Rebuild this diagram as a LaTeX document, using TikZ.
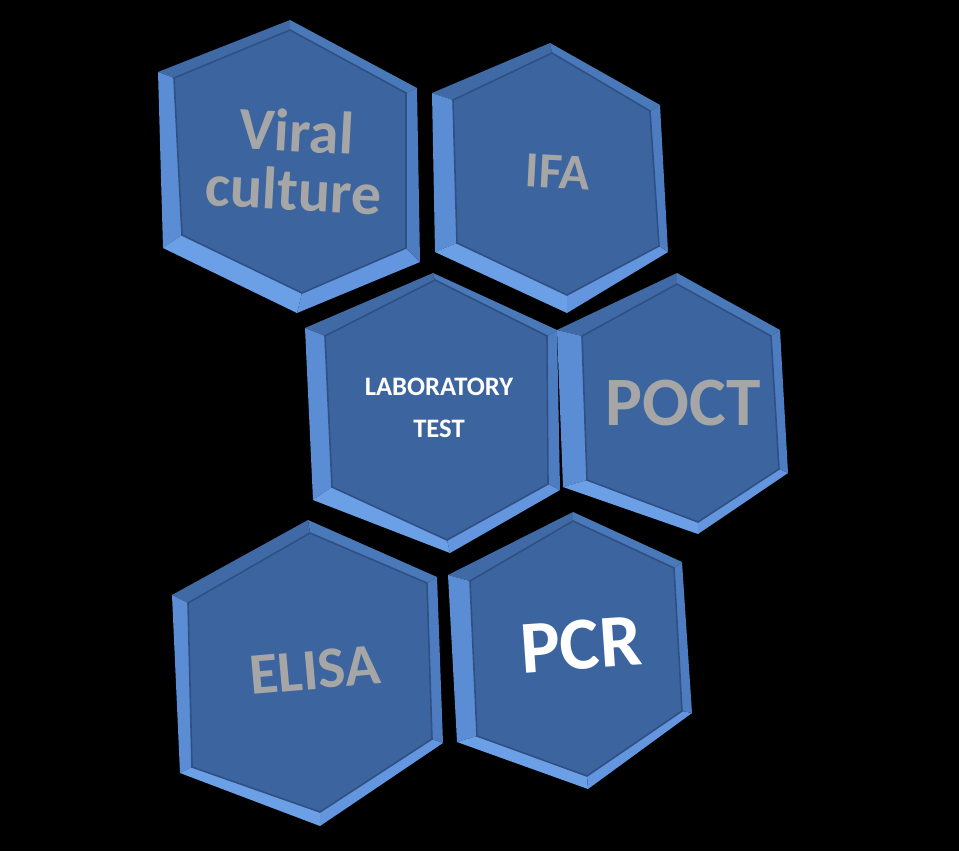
\documentclass[tikz,border=0pt]{standalone}
\usepackage{fontspec}
\setmainfont{Carlito}
\usepackage{xcolor}
\usepackage{tikz}
\usetikzlibrary{positioning}

\definecolor{hexface}{HTML}{3C649E}
\definecolor{bevTL}{HTML}{3F6AA6}
\definecolor{bevL}{HTML}{5A8DD4}
\definecolor{bevBL}{HTML}{6B9FE6}
\definecolor{bevBR}{HTML}{6396DE}
\definecolor{bevR}{HTML}{4D7DC0}
\definecolor{bevTR}{HTML}{4A79BA}
\definecolor{hexrim}{HTML}{2E5084}
\definecolor{labelgray}{HTML}{A6A6A6}

% faces of one bevelled hexagon, from the coordinates o1..o6 and i1..i6
\newcommand{\bevelhex}{%
  \fill[bevTL] (o1) -- (o2) -- (i2) -- (i1) -- cycle;
  \fill[bevL]  (o2) -- (o3) -- (i3) -- (i2) -- cycle;
  \fill[bevBL] (o3) -- (o4) -- (i4) -- (i3) -- cycle;
  \fill[bevBR] (o4) -- (o5) -- (i5) -- (i4) -- cycle;
  \fill[bevR]  (o5) -- (o6) -- (i6) -- (i5) -- cycle;
  \fill[bevTR] (o6) -- (o1) -- (i1) -- (i6) -- cycle;
  \filldraw[fill=hexface, draw=hexrim, line width=1.2pt]
    (i1) -- (i2) -- (i3) -- (i4) -- (i5) -- (i6) -- cycle;
}
\newcommand{\hexcorners}[6]{%
  \coordinate (o1) at #1; \coordinate (o2) at #2; \coordinate (o3) at #3;
  \coordinate (o4) at #4; \coordinate (o5) at #5; \coordinate (o6) at #6;
}
\newcommand{\hexinner}[6]{%
  \coordinate (i1) at #1; \coordinate (i2) at #2; \coordinate (i3) at #3;
  \coordinate (i4) at #4; \coordinate (i5) at #5; \coordinate (i6) at #6;
}

\begin{document}
\begin{tikzpicture}[x=0.75pt, y=-0.75pt,
    graylabel/.style={text=labelgray, font=\bfseries, align=center},
    whitelabel/.style={text=white, font=\bfseries, align=center}]
  \fill[black] (0,0) rectangle (959,851);
  \useasboundingbox (0,0) rectangle (959,851);

  % Viral culture
  \hexcorners{(290,20)}{(158,72)}{(163,248)}{(297,313)}{(420,262)}{(417,88)}
  \hexinner{(290,30)}{(174,78)}{(182,235)}{(302,293)}{(406,248)}{(406,93)}
  \bevelhex
  % IFA
  \hexcorners{(550,43)}{(432,93)}{(435,252)}{(567,313)}{(668,252)}{(660,105)}
  \hexinner{(552,53)}{(453,100)}{(457,243)}{(567,295)}{(659,246)}{(650,111)}
  \bevelhex
  % laboratory test
  \hexcorners{(433,273)}{(305,328)}{(313,500)}{(450,553)}{(560,490)}{(557,330)}
  \hexinner{(435,280)}{(325,336)}{(332,487)}{(447,540)}{(548,484)}{(547,336)}
  \bevelhex
  % POCT
  \hexcorners{(677,273)}{(557,330)}{(563,487)}{(698,534)}{(788,473)}{(780,330)}
  \hexinner{(677,284)}{(582,336)}{(587,480)}{(698,522)}{(779,469)}{(771,336)}
  \bevelhex
  % ELISA
  \hexcorners{(308,520)}{(172,595)}{(180,773)}{(320,826)}{(443,743)}{(437,577)}
  \hexinner{(310,533)}{(188,603)}{(192,767)}{(320,812)}{(432,739)}{(427,583)}
  \bevelhex
  % PCR
  \hexcorners{(573,512)}{(448,575)}{(457,742)}{(588,789)}{(692,713)}{(682,562)}
  \hexinner{(573,521)}{(470,581)}{(477,736)}{(587,776)}{(682,711)}{(674,568)}
  \bevelhex

  \node[graylabel, font=\fontsize{45}{44}\selectfont\bfseries, rotate=-3] (viral) at (295,160) {Viral\\culture};
  \node[graylabel, font=\fontsize{38}{40}\selectfont\bfseries, rotate=-3] (ifa) at (558,172) {IFA};
  \node[whitelabel, font=\fontsize{20}{32}\selectfont\bfseries] (lab) at (439,408) {LABORATORY\\TEST};
  \node[graylabel, font=\fontsize{52}{56}\selectfont\bfseries] (poct) at (683,403) {POCT};
  \node[graylabel, font=\fontsize{44}{48}\selectfont\bfseries, rotate=5] (elisa) at (315,670) {ELISA};
  \node[whitelabel, font=\fontsize{56}{60}\selectfont\bfseries, rotate=4] (pcr) at (581,645) {PCR};
\end{tikzpicture}
\end{document}
